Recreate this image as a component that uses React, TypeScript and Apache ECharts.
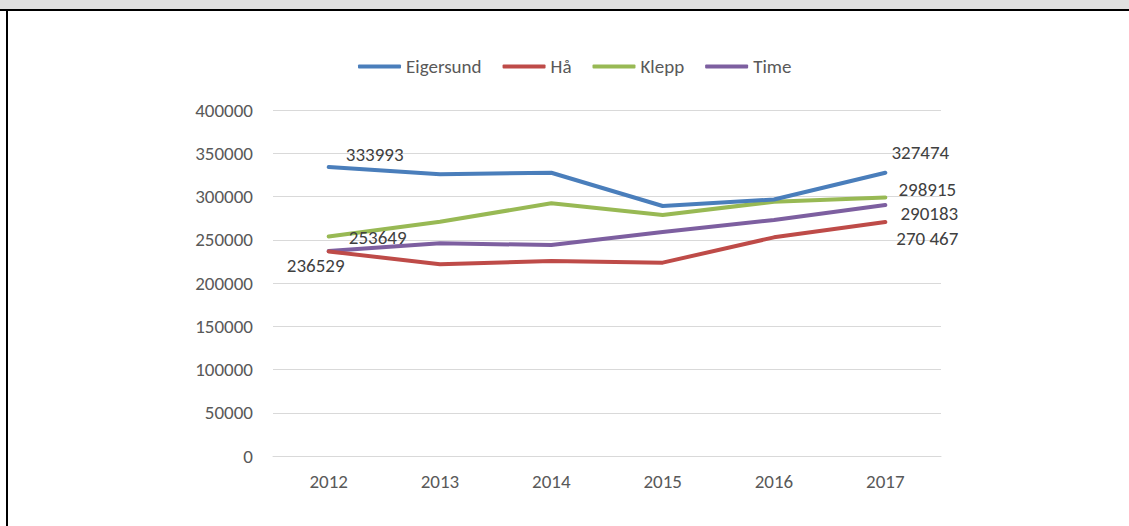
import React, { useEffect, useRef } from "react";
import * as echarts from "echarts";

const years = ["2012", "2013", "2014", "2015", "2016", "2017"];
const seriesNames = ["Eigersund", "Hå", "Klepp", "Time"];
const eigersund = [333993, 325700, 327500, 289000, 296500, 327474];
const ha = [236529, 221600, 225400, 223500, 252800, 270467];
const klepp = [253649, 270900, 292100, 278600, 294000, 298915];
const time = [237000, 245900, 243900, 259000, 272800, 290183];
const yTicks = { min: 0, max: 400000, interval: 50000 };
const colors = ["#4A7EBB", "#BE4B48", "#98B954", "#7D5FA0"];

// labelled points: [series index, point index, text, dx, dy]
const labelSpecs: [number, number, string, number, number][] = [
  [0, 0, "333993", 46, -13],
  [0, 5, "327474", 35, -20],
  [2, 5, "298915", 42, -8],
  [3, 5, "290183", 44, 9],
  [1, 5, "270 467", 42, 16],
  [2, 0, "253649", 49, 1],
  [1, 0, "236529", -13, 14],
];

const FONT = "Carlito, 'Open Sans', sans-serif";

export default function App() {
  const ref = useRef<HTMLDivElement>(null);
  useEffect(() => {
    if (!ref.current) return;
    const chart = echarts.init(ref.current, undefined, { renderer: "svg" });
    const allData = [eigersund, ha, klepp, time];
    const series = allData.map((arr, si) => ({
      name: seriesNames[si],
      type: "line",
      symbol: "circle",
      symbolSize: 0,
      showSymbol: true,
      lineStyle: { width: 4, color: colors[si], cap: "round", join: "round" },
      itemStyle: { color: colors[si] },
      emphasis: { disabled: true },
      z: 10 - si,
      data: arr.map((v, pi) => {
        const spec = labelSpecs.find((s) => s[0] === si && s[1] === pi);
        if (!spec) return { value: v };
        return {
          value: v,
          label: {
            show: true,
            position: "inside",
            offset: [spec[3], spec[4]],
            formatter: spec[2],
            color: "#404040",
            fontSize: 19,
            fontFamily: FONT,
            align: "center",
            verticalAlign: "middle",
          },
        };
      }),
    }));
    chart.setOption({
      animation: false,
      backgroundColor: "#ffffff",
      textStyle: { fontFamily: FONT },
      graphic: [
        { type: "rect", shape: { x: 0, y: 0, width: 1129, height: 9 }, style: { fill: "#e0e0e0" }, silent: true },
        { type: "rect", shape: { x: 0, y: 9, width: 1129, height: 2 }, style: { fill: "#000000" }, silent: true },
        { type: "rect", shape: { x: 6, y: 9, width: 2, height: 517 }, style: { fill: "#000000" }, silent: true },
      ],
      legend: {
        data: seriesNames,
        top: 52,
        left: 353,
        icon: "roundRect",
        itemWidth: 43,
        itemHeight: 4,
        itemGap: 21,
        textStyle: { color: "#595959", fontSize: 19, fontFamily: FONT },
      },
      grid: { left: 273, right: 188, top: 110, bottom: 70, containLabel: false },
      xAxis: {
        type: "category",
        data: years,
        boundaryGap: true,
        axisLine: { show: true, lineStyle: { color: "#d9d9d9", width: 1 } },
        axisTick: { show: false },
        axisLabel: { color: "#595959", fontSize: 19, fontFamily: FONT, margin: 16 },
      },
      yAxis: {
        type: "value",
        min: yTicks.min,
        max: yTicks.max,
        interval: yTicks.interval,
        axisLine: { show: false },
        axisTick: { show: false },
        splitLine: { lineStyle: { color: "#d9d9d9", width: 1 } },
        axisLabel: {
          color: "#595959",
          fontSize: 19,
          fontFamily: FONT,
          margin: 20,
          formatter: (v: number) => String(v),
        },
      },
      series,
    });
    return () => chart.dispose();
  }, []);
  return (
    <div
      ref={ref}
      style={{ position: "absolute", left: 0, top: 0, width: 1129, height: 526, background: "#fff" }}
    />
  );
}
